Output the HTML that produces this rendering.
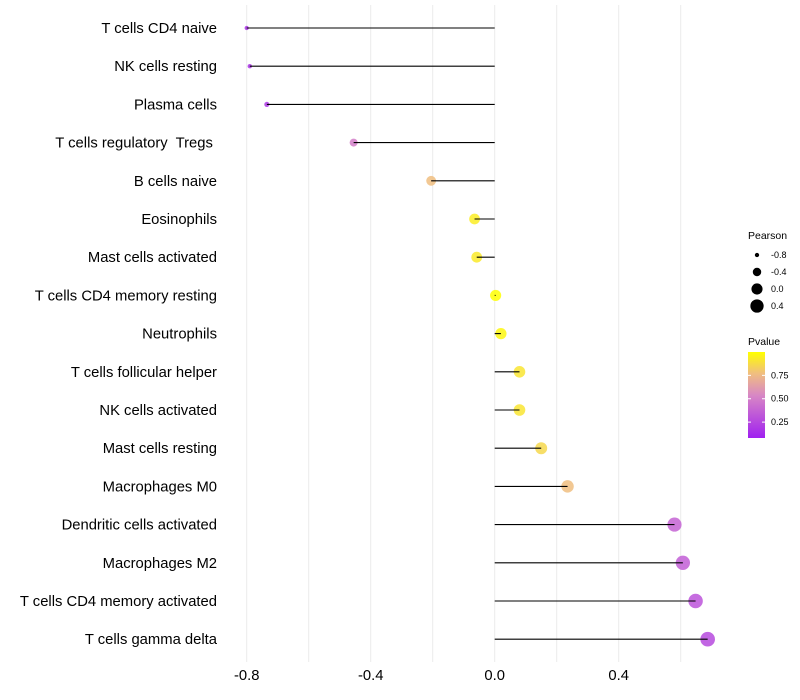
<!DOCTYPE html>
<html><head><meta charset="utf-8"><style>
body{margin:0;background:#fff;font-family:"Liberation Sans",Arial,sans-serif}
svg{display:block}
text{white-space:pre}
</style></head><body>
<svg id="chart" width="800" height="700" xmlns="http://www.w3.org/2000/svg">
<defs><linearGradient id="pgrad" x1="0" y1="1" x2="0" y2="0">
<stop offset="0" stop-color="#A020F0"/><stop offset="0.5" stop-color="#D888C4"/><stop offset="0.75" stop-color="#F0BE80"/><stop offset="1" stop-color="#FFFF00"/>
</linearGradient></defs>
<g id="grid"></g>
<g id="marks"></g>
<g id="ylabels" font-size="14.8" fill="#000" text-anchor="end"></g>
<g id="xlabels" font-size="14.8" fill="#000" text-anchor="middle"></g>
<g font-size="9">
<text x="748" y="239" font-size="10.5">Pearson</text>
<g id="sizeleg"></g>
</g>
<g font-size="9">
<text x="748" y="345" font-size="10.5">Pvalue</text>
<rect x="748" y="352" width="17" height="86" fill="url(#pgrad)"/>
<g id="colleg"></g>
</g>
</svg>
<script>
const categories=["T cells CD4 naive","NK cells resting","Plasma cells","T cells regulatory  Tregs ","B cells naive","Eosinophils","Mast cells activated","T cells CD4 memory resting","Neutrophils","T cells follicular helper","NK cells activated","Mast cells resting","Macrophages M0","Dendritic cells activated","Macrophages M2","T cells CD4 memory activated","T cells gamma delta"];
const pearson=[-0.80,-0.79,-0.735,-0.455,-0.205,-0.065,-0.058,0.003,0.02,0.08,0.08,0.15,0.235,0.58,0.607,0.648,0.687];
const pvalue=[0.1,0.1,0.12,0.45,0.75,0.93,0.92,1.0,0.97,0.9,0.9,0.85,0.75,0.32,0.3,0.25,0.2];
const xTicks=[-0.8,-0.4,0.0,0.4];
const xTickLabels=["-0.8","-0.4","0.0","0.4"];
const sizeLegend=[-0.8,-0.4,0.0,0.4];
const pvalTicks=[0.75,0.5,0.25];

const NS="http://www.w3.org/2000/svg";
function X(v){return 494.7+310*v;}
function Y(i){return 28+i*38.2;}
function R(v){return Math.sqrt(Math.max(1,31+33*v));}
function PY(p){return 352+(1-p)/0.92*86;}
function lerp(a,b,t){return a.map((x,k)=>Math.round(x+(b[k]-x)*t));}
function col(p){
 const s=[[0,[160,32,240]],[0.5,[216,136,196]],[0.75,[240,190,128]],[1,[255,255,0]]];
 p=Math.max(0,Math.min(1,p));
 for(let k=0;k<s.length-1;k++){if(p<=s[k+1][0]){const t=(p-s[k][0])/(s[k+1][0]-s[k][0]);const c=lerp(s[k][1],s[k+1][1],t);return `rgb(${c[0]},${c[1]},${c[2]})`;}}
 return "rgb(255,255,0)";
}
function mk(tag,attrs,parent){const e=document.createElementNS(NS,tag);for(const k in attrs)e.setAttribute(k,attrs[k]);parent.appendChild(e);return e;}
const grid=document.getElementById('grid'),marks=document.getElementById('marks'),yl=document.getElementById('ylabels'),xl=document.getElementById('xlabels');
for(let v=-0.8;v<=0.61;v+=0.2){
 const g=mk('line',{x1:X(v),x2:X(v),y1:5,y2:662,stroke:'#ebebeb','stroke-width':1},grid);
 
 
}
xTicks.forEach((v,i)=>{
 const t=mk('text',{x:X(v),y:680},xl);t.textContent=xTickLabels[i];
 
 
});
categories.forEach((c,i)=>{
 const t=mk('text',{x:217,y:Y(i)+5},yl);t.textContent=c;
 
 
 const p=mk('circle',{cx:X(pearson[i]),cy:Y(i),r:R(pearson[i]),fill:col(pvalue[i]),'fill-opacity':0.85},marks);
 
 
 const l=mk('line',{x1:X(0),x2:X(pearson[i]),y1:Y(i),y2:Y(i),stroke:'#000','stroke-width':1.1},marks);
 
 
});
const sl=document.getElementById('sizeleg');
sizeLegend.forEach((v,i)=>{
 const y=255+i*17;
 const c=mk('circle',{cx:757,cy:y,r:R(v),fill:'#000'},sl);
 
 
 const t=mk('text',{x:771,y:y+3},sl);t.textContent=v.toFixed(1);
 
 
});
const cl=document.getElementById('colleg');
pvalTicks.forEach(p=>{
 const y=PY(p);
 mk('line',{x1:748,x2:751,y1:y,y2:y,stroke:'#fff'},cl);
 mk('line',{x1:762,x2:765,y1:y,y2:y,stroke:'#fff'},cl);
 const t=mk('text',{x:771,y:y+3},cl);t.textContent=p.toFixed(2);
 
 
});
</script>
</body></html>
